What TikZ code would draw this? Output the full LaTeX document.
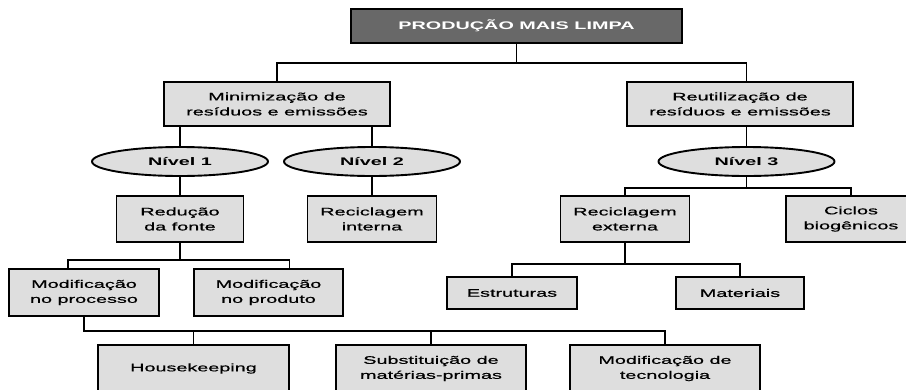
\documentclass[tikz,border=0pt]{standalone}
\usepackage{fontspec}
\setmainfont[FakeStretch=1.8,UprightFeatures={FakeBold=0.7}]{Liberation Sans}
\usetikzlibrary{shapes.geometric, positioning, calc}
\definecolor{boxgray}{HTML}{DEDEDE}
\definecolor{titlegray}{HTML}{686868}

\begin{document}
\begin{tikzpicture}[x=1pt,y=-1pt]
    \tikzstyle{every node} = [font=\fontsize{11}{15}\selectfont]
    \tikzstyle{block} = [draw, rectangle, fill=boxgray, line width=1.9pt, align=center, inner sep=0pt, minimum height=46pt]
    \tikzstyle{level} = [draw, ellipse, fill=boxgray, line width=1.9pt, font=\fontsize{11}{15}\selectfont\bfseries, inner sep=0pt, minimum width=176pt, minimum height=29pt]
    \tikzstyle{link} = [line width=1.9pt]
    \useasboundingbox (0,0) rectangle (906,389);
    \clip (0,0) rectangle (906,389);
    % place nodes
    \node[block,fill=titlegray,text=white,font=\fontsize{11}{15}\selectfont\bfseries,minimum width=331pt,minimum height=34pt] (pml) at (516.5,26) {PRODUÇÃO MAIS LIMPA};
    \node[block,minimum width=226pt,minimum height=44pt] (minim) at (277,104) {Minimização de\\resíduos e emissões};
    \node[block,minimum width=226pt,minimum height=44pt] (reutil) at (740,104) {Reutilização de\\resíduos e emissões};

    \node[level] (niv1) at (180,161.5) {Nível 1};
    \node[level] (niv2) at (372,161.5) {Nível 2};
    \node[level] (niv3) at (746.5,161.5) {Nível 3};

    \node[block,minimum width=127pt] (reduc) at (180,219) {Redução\\da fonte};
    \node[block,minimum width=129pt] (recint) at (372,219) {Reciclagem\\interna};
    \node[block,minimum width=129pt] (recext) at (625,219) {Reciclagem\\externa};
    \node[block,minimum width=130pt] (ciclos) at (851,219) {Ciclos\\biogênicos};

    \node[block,minimum width=150pt,minimum height=47pt] (modproc) at (84,292.5) {Modificação\\no processo};
    \node[block,minimum width=149pt,minimum height=47pt] (modprod) at (268.5,292.5) {Modificação\\no produto};
    \node[block,minimum width=130pt,minimum height=32pt] (estrut) at (512,293) {Estruturas};
    \node[block,minimum width=128pt,minimum height=32pt] (mater) at (740,293) {Materiais};

    \node[block,minimum width=191pt,minimum height=47pt] (house) at (193.5,368.5) {Housekeeping};
    \node[block,minimum width=190pt,minimum height=47pt] (subst) at (431,368.5) {Substituição de\\matérias-primas};
    \node[block,minimum width=190pt,minimum height=47pt] (modtec) at (665,368.5) {Modificação de\\tecnologia};

    % Connections
    \draw[link] (pml.south) -- ++(0,19) coordinate (top) -| (minim.north);
    \draw[link] (top) -| (niv3.north |- reutil.north);
    \draw[link] (niv1.north |- minim.south) -- (niv1.north);
    \draw[link] (niv2.north |- minim.south) -- (niv2.north);
    \draw[link] (niv3.north |- reutil.south) -- (niv3.north);
    \draw[link] (niv1.south) -- (reduc.north);
    \draw[link] (niv2.south) -- (recint.north);

    \draw[link] (niv3.south) -- ++(0,11) coordinate (fork3) -| (recext.north);
    \draw[link] (fork3) -| (ciclos.north);

    \draw[link] (reduc.south) -- ++(0,17) coordinate (forkred) -| ($(modproc.north)+(-16,0)$);
    \draw[link] (forkred) -| ($(modprod.north)+(21,0)$);

    \draw[link] (recext.south) -- ++(0,21) coordinate (forkext) -| (estrut.north);
    \draw[link] (forkext) -| (mater.north);

    \draw[link] (modproc.south) -- ++(0,14) coordinate (forkproc) -| (house.north);
    \draw[link] (forkproc) -| (subst.north);
    \draw[link] (forkproc) -| (modtec.north);

\end{tikzpicture}
\end{document}
